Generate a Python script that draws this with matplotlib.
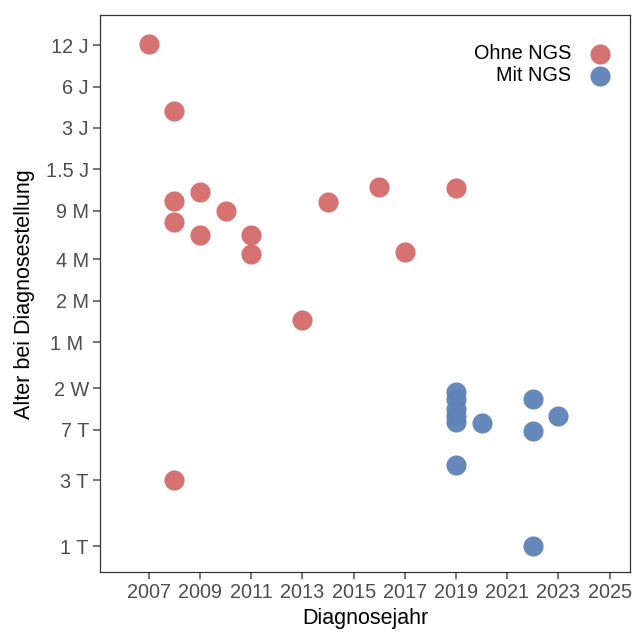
import numpy as np
import matplotlib.pyplot as plt

plt.rcParams['font.family'] = ['Liberation Sans', 'DejaVu Sans']

# Ohne NGS: diagnosis year and age at diagnosis (days)
ohne_jahr = [2007, 2008, 2008, 2008, 2008, 2009, 2009, 2010, 2011, 2011,
             2013, 2014, 2016, 2017, 2019]
ohne_alter = [4446, 1450, 321, 226, 3, 374, 182, 272, 182, 132,
              44, 316, 406, 137, 400]

# Mit NGS
mit_jahr = [2019, 2019, 2019, 2019, 2019, 2019, 2020, 2022, 2022, 2022, 2023]
mit_alter = [13.2, 11.7, 9.9, 8.8, 8.0, 3.9, 7.8, 11.7, 6.9, 1, 8.8]

# y ticks (days) and labels
y_ticks = [1, 3, 7, 14, 30.44, 60.88, 121.75, 273.9, 547.9, 1095.75, 2191.5, 4383]
y_labels = ['1 T', '3 T', '7 T', '2 W', '1 M ', '2 M', '4 M', '9 M',
            '1.5 J', '3 J', '6 J', '12 J']
x_ticks = list(range(2007, 2026, 2))

red = '#D46A6A'
blue = '#5F82B8'

fig = plt.figure(figsize=(6.33, 6.35), dpi=100)
ax = fig.add_axes([0.158, 0.099, 0.837, 0.877])

ax.scatter(ohne_jahr, ohne_alter, s=210, color=red, alpha=0.95,
           linewidths=0, label='Ohne NGS', zorder=3)
ax.scatter(mit_jahr, mit_alter, s=210, color=blue, alpha=0.95,
           linewidths=0, label='Mit NGS', zorder=3)

ax.set_yscale('log')
ax.set_ylim(10 ** -0.189, 10 ** 3.859)
ax.set_xlim(2005.09, 2025.79)
ax.set_yticks(y_ticks)
ax.set_yticklabels(y_labels)
ax.minorticks_off()
ax.set_xticks(x_ticks)

for sp in ax.spines.values():
    sp.set_color('#333333')
    sp.set_linewidth(0.9)
ax.tick_params(axis='both', length=5, width=1.1, color='#4D4D4D',
               labelcolor='#4D4D4D', labelsize=14.3, pad=3)

ax.set_xlabel('Diagnosejahr', fontsize=15.5, color='black', labelpad=4)
ax.set_ylabel('Alter bei Diagnosestellung', fontsize=15.5, color='black', labelpad=8)

leg = ax.legend(loc='upper right', bbox_to_anchor=(0.985, 0.962),
                frameon=False, markerfirst=False, fontsize=14.3,
                handlelength=1.4, handletextpad=0.75, labelspacing=0.12,
                borderaxespad=0, scatterpoints=1)
for t in leg.get_texts():
    t.set_ha('right')

fig.savefig('out.png', dpi=100)
